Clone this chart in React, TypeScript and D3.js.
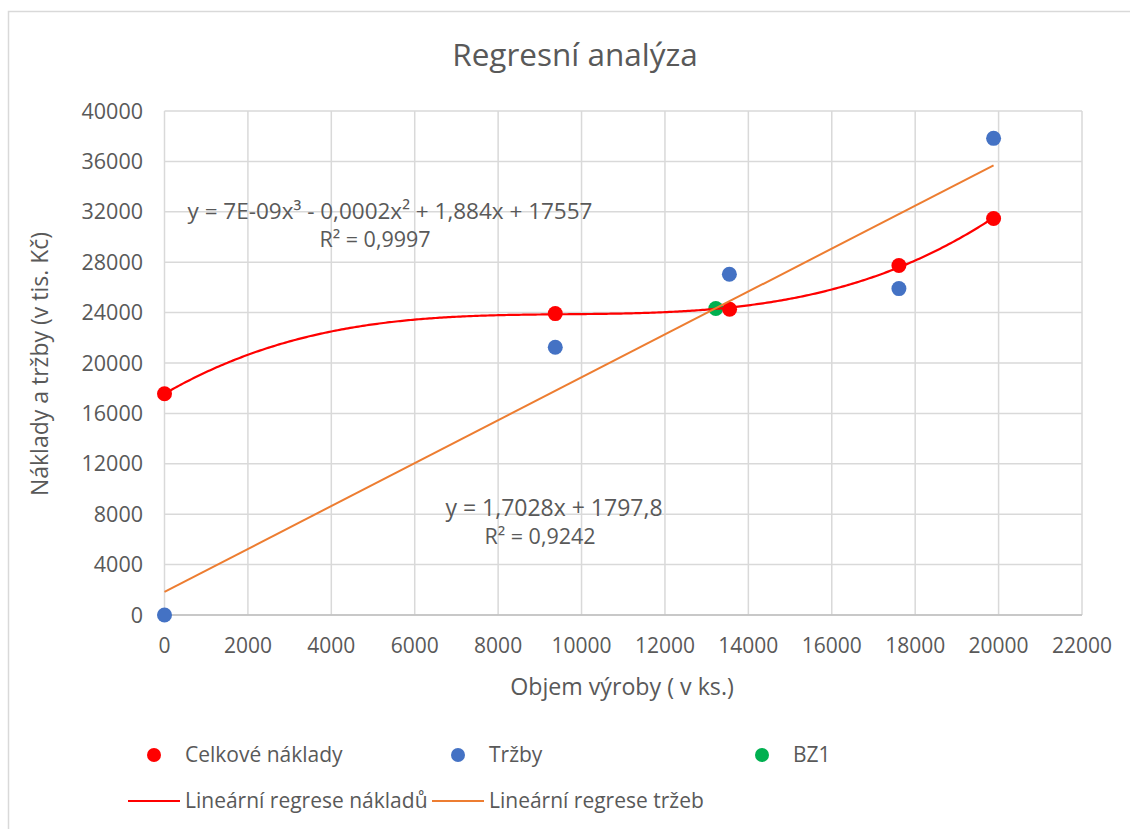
import React, { useEffect, useRef } from "react";
import * as d3 from "d3";

// Celkové náklady (objem, náklady)
const costX = [0, 9370, 13550, 17610, 19880];
const costY = [17557, 23920, 24270, 27735, 31470];
// Tržby
const salesX = [0, 9370, 13545, 17610, 19880];
const salesY = [0, 21250, 27045, 25905, 37830];
// BZ1 (bod zvratu)
const bepX = [13220];
const bepY = [24330];

const xTicks = [0, 2000, 4000, 6000, 8000, 10000, 12000, 14000, 16000, 18000, 20000, 22000];
const yTicks = [0, 4000, 8000, 12000, 16000, 20000, 24000, 28000, 32000, 36000, 40000];

const costEq = "y = 7E-09x³ - 0,0002x² + 1,884x + 17557";
const costR2 = "R² = 0,9997";
const salesEq = "y = 1,7028x + 1797,8";
const salesR2 = "R² = 0,9242";

const W = 1130;
const H = 829;
const FONT = "'Open Sans', sans-serif";
const TEXT = "#595959";
const GRID = "#d9d9d9";
const RED = "#ff0000";
const BLUE = "#4472c4";
const GREEN = "#00b050";
const ORANGE = "#ed7d31";

// least squares polynomial fit, x scaled for stability
function polyfit(xs: number[], ys: number[], deg: number) {
  const s = 1e-4;
  const n = deg + 1;
  const A: number[][] = [];
  for (let i = 0; i < n; i++) {
    A.push(new Array(n + 1).fill(0));
  }
  xs.forEach((x0, k) => {
    const x = x0 * s;
    for (let i = 0; i < n; i++) {
      for (let j = 0; j < n; j++) A[i][j] += Math.pow(x, i + j);
      A[i][n] += ys[k] * Math.pow(x, i);
    }
  });
  for (let c = 0; c < n; c++) {
    let p = c;
    for (let r = c + 1; r < n; r++) if (Math.abs(A[r][c]) > Math.abs(A[p][c])) p = r;
    [A[c], A[p]] = [A[p], A[c]];
    for (let r = 0; r < n; r++) {
      if (r === c) continue;
      const f = A[r][c] / A[c][c];
      for (let k = c; k <= n; k++) A[r][k] -= f * A[c][k];
    }
  }
  const coef = A.map((row, i) => row[n] / row[i]);
  return (x0: number) => {
    const x = x0 * s;
    return coef.reduce((acc, c, i) => acc + c * Math.pow(x, i), 0);
  };
}

export default function App() {
  const svgRef = useRef<SVGSVGElement>(null);

  useEffect(() => {
    if (!svgRef.current) return;
    const svg = d3.select(svgRef.current);
    svg.selectAll("*").remove();

    const left = 164.5;
    const right = 1082;
    const top = 111;
    const bottom = 615;

    const x = d3.scaleLinear().domain([0, 22000]).range([left, right]);
    const y = d3.scaleLinear().domain([0, 40000]).range([bottom, top]);

    // rámeček grafu
    svg
      .append("rect")
      .attr("x", 8.5)
      .attr("y", 11.5)
      .attr("width", W)
      .attr("height", H)
      .attr("fill", "white")
      .attr("stroke", GRID)
      .attr("stroke-width", 1.5);

    // mřížka
    const grid = svg.append("g");
    grid
      .selectAll(".gx")
      .data(xTicks)
      .enter()
      .append("line")
      .attr("x1", (d) => x(d))
      .attr("x2", (d) => x(d))
      .attr("y1", top)
      .attr("y2", bottom)
      .attr("stroke", GRID)
      .attr("stroke-width", 1.5);
    grid
      .selectAll(".gy")
      .data(yTicks)
      .enter()
      .append("line")
      .attr("x1", left)
      .attr("x2", right)
      .attr("y1", (d) => y(d))
      .attr("y2", (d) => y(d))
      .attr("stroke", GRID)
      .attr("stroke-width", 1.5);
    // osa x
    svg
      .append("line")
      .attr("x1", left)
      .attr("x2", right)
      .attr("y1", y(0))
      .attr("y2", y(0))
      .attr("stroke", "#bfbfbf")
      .attr("stroke-width", 1.5);

    // popisky os
    svg
      .append("g")
      .selectAll("text")
      .data(yTicks)
      .enter()
      .append("text")
      .attr("x", 143)
      .attr("y", (d) => y(d))
      .attr("dy", "0.35em")
      .attr("text-anchor", "end")
      .attr("font-family", FONT)
      .attr("font-size", 21.5)
      .attr("fill", TEXT)
      .text((d) => String(d));
    svg
      .append("g")
      .selectAll("text")
      .data(xTicks)
      .enter()
      .append("text")
      .attr("x", (d) => x(d))
      .attr("y", 646)
      .attr("dy", "0.35em")
      .attr("text-anchor", "middle")
      .attr("font-family", FONT)
      .attr("font-size", 21)
      .attr("fill", TEXT)
      .text((d) => String(d));

    // regrese
    const costFit = polyfit(costX, costY, 3);
    const salesFit = polyfit(salesX, salesY, 1);
    const maxX = d3.max(costX) as number;
    const xs = d3.range(0, maxX, 50).concat([maxX]);

    // body
    const dots = (xv: number[], yv: number[], color: string) => {
      svg
        .append("g")
        .selectAll("circle")
        .data(xv.map((v, i) => [v, yv[i]]))
        .enter()
        .append("circle")
        .attr("cx", (d) => x(d[0]))
        .attr("cy", (d) => y(d[1]))
        .attr("r", 7.5)
        .attr("fill", color);
    };
    dots(bepX, bepY, GREEN);
    dots(salesX, salesY, BLUE);
    dots(costX, costY, RED);

    const line = d3
      .line<number>()
      .x((d) => x(d))
      .curve(d3.curveLinear);
    svg
      .append("path")
      .datum(xs)
      .attr("fill", "none")
      .attr("stroke", RED)
      .attr("stroke-width", 2.2)
      .attr("d", line.y((d) => y(costFit(d))));
    svg
      .append("path")
      .datum([0, maxX])
      .attr("fill", "none")
      .attr("stroke", ORANGE)
      .attr("stroke-width", 2)
      .attr("d", line.y((d) => y(salesFit(d))));

    // rovnice
    const label = (tx: number, ty: number, s: string, fs: number) =>
      svg
        .append("text")
        .attr("x", tx)
        .attr("y", ty)
        .attr("text-anchor", "middle")
        .attr("font-family", FONT)
        .attr("font-size", fs)
        .attr("fill", TEXT)
        .text(s);
    label(390, 219, costEq, 22.5);
    label(375, 247, costR2, 21.5);
    label(554, 516, salesEq, 23);
    label(540, 544, salesR2, 21.5);

    // nadpis a názvy os
    svg
      .append("text")
      .attr("x", 575)
      .attr("y", 66)
      .attr("text-anchor", "middle")
      .attr("font-family", FONT)
      .attr("font-size", 31.5)
      .attr("fill", TEXT)
      .text("Regresní analýza");
    svg
      .append("text")
      .attr("x", 622)
      .attr("y", 687)
      .attr("dy", "0.35em")
      .attr("text-anchor", "middle")
      .attr("font-family", FONT)
      .attr("font-size", 23.2)
      .attr("fill", TEXT)
      .text("Objem výroby ( v ks.)");
    svg
      .append("text")
      .attr("transform", "translate(40,364) rotate(-90)")
      .attr("dy", "0.35em")
      .attr("text-anchor", "middle")
      .attr("font-family", FONT)
      .attr("font-size", 23)
      .attr("fill", TEXT)
      .text("Náklady a tržby (v tis. Kč)");

    // legenda (mřížka sloupců jako v Excelu)
    const leg = svg.append("g").attr("font-family", FONT).attr("font-size", 21).attr("fill", TEXT);
    const cols = [128, 432, 736];
    const symW = 52;
    const dotItems: [string, string][] = [
      [RED, "Celkové náklady"],
      [BLUE, "Tržby"],
      [GREEN, "BZ1"],
    ];
    dotItems.forEach(([c, t], i) => {
      leg
        .append("circle")
        .attr("cx", cols[i] + symW / 2)
        .attr("cy", 755)
        .attr("r", 7)
        .attr("fill", c);
      leg
        .append("text")
        .attr("x", cols[i] + symW + 5)
        .attr("y", 755)
        .attr("dy", "0.35em")
        .text(t);
    });
    const lineItems: [string, string][] = [
      [RED, "Lineární regrese nákladů"],
      [ORANGE, "Lineární regrese tržeb"],
    ];
    lineItems.forEach(([c, t], i) => {
      leg
        .append("line")
        .attr("x1", cols[i])
        .attr("x2", cols[i] + symW)
        .attr("y1", 801)
        .attr("y2", 801)
        .attr("stroke", c)
        .attr("stroke-width", 2.2);
      leg
        .append("text")
        .attr("x", cols[i] + symW + 5)
        .attr("y", 801)
        .attr("dy", "0.35em")
        .text(t);
    });
  }, []);

  return (
    <svg
      ref={svgRef}
      width={W}
      height={H}
      style={{ position: "absolute", left: 0, top: 0, display: "block" }}
    />
  );
}
